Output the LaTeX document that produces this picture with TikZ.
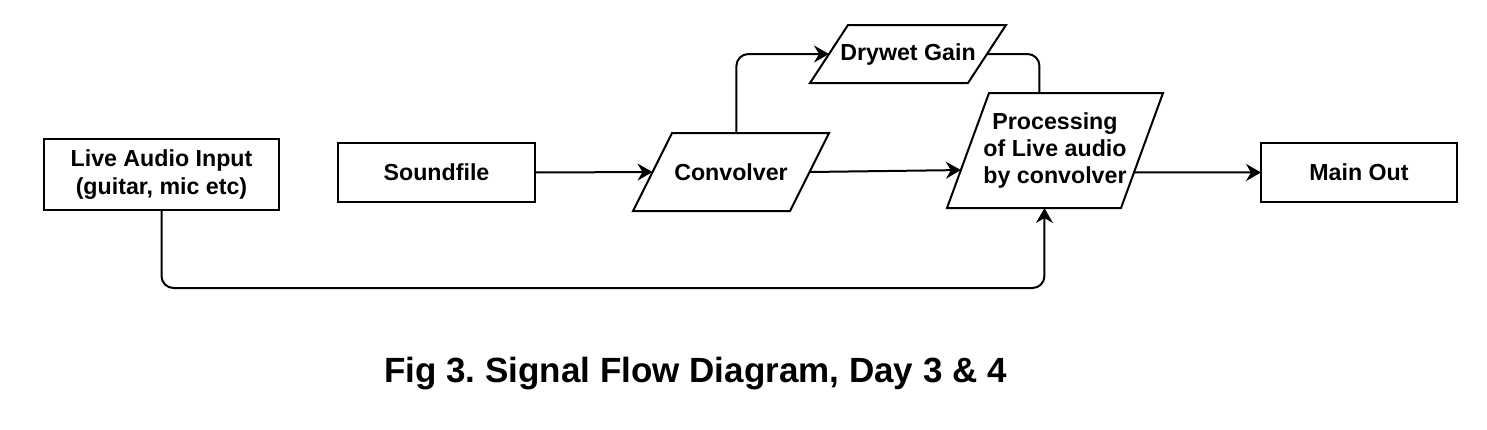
\documentclass[tikz,border=0pt]{standalone}
\usepackage{fontspec}
\setmainfont{Liberation Sans}
\usetikzlibrary{arrows.meta,calc}

\begin{document}
\begin{tikzpicture}[x=0.5pt,y=-0.5pt,
	box/.style={rectangle,inner sep=0pt,outer sep=0pt,align=center,
		font=\fontsize{11.6}{13.6}\selectfont\bfseries},
	flow/.style={line width=1pt,rounded corners=6pt},
	tip/.style={-{Stealth[length=7.5pt,width=8.5pt,inset=2.5pt]}}]
	\useasboundingbox (0,0) rectangle (1487,429);
	
	% Draw sources and output
	\node[box,draw,line width=1pt,minimum width=117.5pt,minimum height=35.5pt] (live) at (161.5,174.5) {Live Audio Input\\(guitar, mic etc)};
	\node[box,draw,line width=1pt,minimum width=98.5pt,minimum height=29.5pt] (sound) at (436.5,172.5) {Soundfile};
	\node[box,draw,line width=1pt,minimum width=98pt,minimum height=29.5pt] (main) at (1359,172.5) {Main Out};
	
	% Draw processing blocks (parallelograms round the text nodes)
	\node[box,minimum width=98pt,minimum height=39pt] (conv) at (731,172) {Convolver};
	\node[box,minimum width=98pt,minimum height=29pt] (dry) at (908,54) {Drywet Gain};
	\node[box,minimum width=108pt,minimum height=57.5pt] (proc) at (1055,150.5) {Processing\\of Live audio\\by convolver};
	\foreach \n/\s in {conv/39,dry/38,proc/42} {
		\coordinate (\n-tl) at ($(\n.north west)+(\s,0)$);
		\coordinate (\n-br) at ($(\n.south east)-(\s,0)$);
		\draw[line width=1pt] (\n.south west) -- (\n-tl) -- (\n.north east) -- (\n-br) -- cycle;
	}
	
	% Connector end points on the slanted sides
	\coordinate (convin) at ($(conv.south west)!0.5!(conv-tl)$);
	\coordinate (convout) at ($(conv-br)!0.5!(conv.north east)$);
	\coordinate (convup) at ($(conv-tl)!0.41!(conv.north east)$);
	\coordinate (dryin) at ($(dry.south west)!0.5!(dry-tl)$);
	\coordinate (dryout) at ($(dry-br)!0.5!(dry.north east)$);
	\coordinate (procleft) at ($(proc.south west)!0.33!(proc-tl)$);
	\coordinate (procright) at ($(proc-br)!0.31!(proc.north east)$);
	\coordinate (proctop) at ($(proc-tl)!0.29!(proc.north east)$);
	\coordinate (procin) at ($(proc.south west)!0.56!(proc-br)$);
	\coordinate (low) at (0,288);
	
	% Draw signal flow
	\draw[flow,tip] (sound.east) -- (convin);
	\draw[flow,tip] (convout) -- (procleft);
	\draw[flow,tip] (procright) -- (main.west);
	\draw[flow,tip] (convup) |- (dryin);
	\draw[flow] (dryout) -| (proctop);
	\draw[flow,tip] (live.south) |- (procin |- low) -- (procin);
	
	% Caption
	\node[font=\fontsize{17.5}{21}\selectfont\bfseries,anchor=base] (caption) at (695.5,382) {Fig 3.\ Signal Flow Diagram, Day 3 \& 4};
\end{tikzpicture}
\end{document}
